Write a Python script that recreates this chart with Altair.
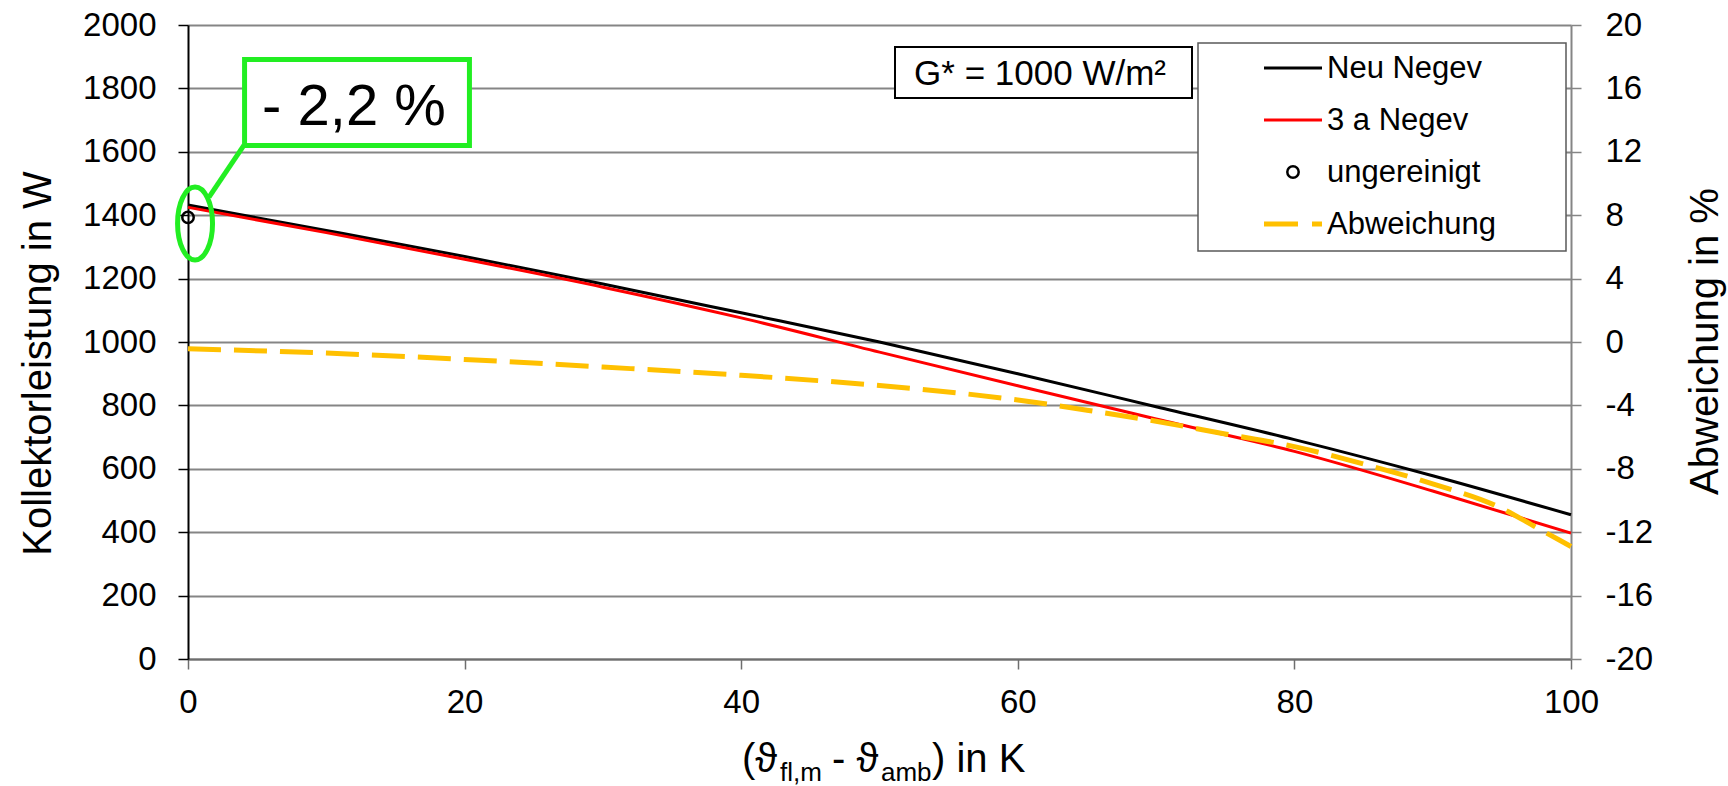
import altair as alt
import pandas as pd

# Collector output over the temperature difference (fluid mean - ambient)
temp_diff = [0, 10, 20, 30, 40, 50, 60, 70, 80, 90, 100]
power_new = [1432, 1352, 1270, 1183, 1092, 1000, 900, 796, 692, 578, 455]
power_3a = [1425, 1345, 1261, 1173, 1076, 968, 862, 757, 655, 530, 397]

# Deviation of the 3-year-old collector in percent (secondary axis)
dev_temp = [0, 10, 20, 30, 40, 50, 60, 65, 70, 75, 80, 85, 90, 95, 97.5, 100]
dev_pct = [-0.43, -0.7, -1.1, -1.58, -2.1, -2.75, -3.66, -4.3, -5.0, -5.8,
           -6.6, -7.7, -8.95, -10.5, -11.7, -12.9]

# Single measurement of the uncleaned collector
unclean_temp = [0]
unclean_power = [1393]

series_names = ["Neu Negev", "3 a Negev", "ungereinigt", "Abweichung"]
series_colors = ["#000000", "#ff0000", "#000000", "#ffc000"]

x_ticks = [0, 20, 40, 60, 80, 100]
power_ticks = [0, 200, 400, 600, 800, 1000, 1200, 1400, 1600, 1800, 2000]
dev_ticks = [-20, -16, -12, -8, -4, 0, 4, 8, 12, 16, 20]

callout_text = "- 2,2 %"
irradiance_text = "G* = 1000 W/m²"
y_title = "Kollektorleistung in W"
dev_title = "Abweichung in %"
x_title_parts = ["(ϑ", "fl,m", "- ϑ", "amb", ") in K"]

# ---------------------------------------------------------------- layout
W, H = 1383, 634
FONT = "Liberation Sans"
TITLE_SIZE = 40
GREEN = "#22ee22"
GRID = "#858585"

x_scale = alt.Scale(domain=[0, 100], nice=False, zero=False)
p_scale = alt.Scale(domain=[0, 2000], nice=False)
d_scale = alt.Scale(domain=[-20, 20], nice=False)

x_axis = alt.Axis(values=x_ticks, title=None, grid=False, format="d",
                  labelFont=FONT, labelFontSize=33, labelColor="#000",
                  labelPadding=17, labelFlush=False, tickSize=10,
                  tickColor="#6e6e6e", tickWidth=1.5,
                  domainColor="#6e6e6e", domainWidth=2)

p_axis = alt.Axis(orient="left", values=power_ticks, format="d",
                  title=y_title, titleFont=FONT, titleFontSize=TITLE_SIZE,
                  titleFontWeight="normal", titleColor="#000",
                  titleAngle=270, titleAlign="center",
                  titleBaseline="alphabetic", titleX=-138, titleY=338,
                  labelFont=FONT, labelFontSize=33, labelColor="#000",
                  labelPadding=22, tickSize=10, tickColor="#000",
                  tickWidth=1.5, domainColor="#000", domainWidth=2,
                  grid=True, gridColor=GRID, gridWidth=2)

d_axis = alt.Axis(orient="right", values=dev_ticks,
                  labelExpr="'' + datum.value",
                  title=dev_title, titleFont=FONT, titleFontSize=TITLE_SIZE,
                  titleFontWeight="normal", titleColor="#000",
                  titleAngle=270, titleAlign="center",
                  titleBaseline="alphabetic", titleX=146, titleY=316,
                  labelFont=FONT, labelFontSize=33, labelColor="#000",
                  labelPadding=24, tickSize=10, tickColor=GRID,
                  tickWidth=1.5, domainColor=GRID, domainWidth=2, grid=False)


def X(field):
    return alt.X(field, type="quantitative", scale=x_scale, axis=x_axis)


def P(field):
    return alt.Y(field, type="quantitative", scale=p_scale, axis=p_axis)


# ---------------------------------------------------------------- power curves
n = len(temp_diff)
power_df = pd.DataFrame({
    "dT": temp_diff + temp_diff,
    "P": power_new + power_3a,
    "series": [series_names[0]] * n + [series_names[1]] * n,
})

lines = alt.Chart(power_df).mark_line(interpolate="monotone", strokeWidth=3).encode(
    x=X("dT"),
    y=P("P"),
    color=alt.Color("series:N", legend=None,
                    scale=alt.Scale(domain=series_names[:2], range=series_colors[:2])),
    detail="series:N",
)

unclean = alt.Chart(pd.DataFrame({"dT": unclean_temp, "P": unclean_power})).mark_point(
    shape="circle", filled=False, color=series_colors[2], size=130,
    strokeWidth=2.5, opacity=1,
).encode(x=X("dT"), y=P("P"))

# ---------------------------------------------------------------- callout
callout = pd.DataFrame([{
    "bx0": 4.09, "bx1": 20.35, "by0": 1620, "by1": 1891,
    "tx": 12.0, "ty": 1683,
    "ex": 0.51, "ey": 1374,
    "lx0": 1.52, "ly0": 1457, "lx1": 4.05, "ly1": 1621,
}])
ELLIPSE = ("M 0 -1 C 0.265 -1 0.479 -0.552 0.479 0 C 0.479 0.552 0.265 1 0 1 "
           "C -0.265 1 -0.479 0.552 -0.479 0 C -0.479 -0.552 -0.265 -1 0 -1 Z")

call_base = alt.Chart(callout)
call_link = call_base.mark_rule(color=GREEN, strokeWidth=5).encode(
    x=X("lx0"), x2="lx1", y=P("ly0"), y2="ly1")
call_ring = call_base.mark_point(shape=ELLIPSE, size=5329, filled=False,
                                 color=GREEN, strokeWidth=5, opacity=1).encode(
    x=X("ex"), y=P("ey"))
call_box = call_base.mark_rect(fill="#ffffff", stroke=GREEN, strokeWidth=5).encode(
    x=X("bx0"), x2="bx1", y=P("by0"), y2="by1")
call_text = call_base.mark_text(text=callout_text, font=FONT, fontSize=58,
                                color="#000", align="center", baseline="alphabetic").encode(
    x=X("tx"), y=P("ty"))

# ---------------------------------------------------------------- static boxes
one = pd.DataFrame({"k": [0]})

g_box = alt.Chart(one).mark_rect(fill="#ffffff", stroke="#000", strokeWidth=2).encode(
    x=alt.value(707), x2=alt.value(1004), y=alt.value(22), y2=alt.value(73))
g_text = alt.Chart(one).mark_text(text=irradiance_text, font=FONT, fontSize=35,
                                  color="#000", align="center", baseline="middle").encode(
    x=alt.value(852), y=alt.value(49))

legend_layers = [
    alt.Chart(one).mark_rect(fill="#ffffff", stroke="#595959", strokeWidth=1.5).encode(
        x=alt.value(1010), x2=alt.value(1378), y=alt.value(18), y2=alt.value(226))
]
legend_rows = [43, 95, 147, 199]
for name, colr, cy in zip(series_names, series_colors, legend_rows):
    if name == "ungereinigt":
        sym = alt.Chart(one).mark_point(shape="circle", filled=False, color=colr,
                                        size=130, strokeWidth=2.5, opacity=1).encode(
            x=alt.value(1105), y=alt.value(cy))
    elif name == "Abweichung":
        sym = alt.Chart(one).mark_rule(color=colr, strokeWidth=5, strokeDash=[34, 14]).encode(
            x=alt.value(1076), x2=alt.value(1134), y=alt.value(cy))
    else:
        sym = alt.Chart(one).mark_rule(color=colr, strokeWidth=3).encode(
            x=alt.value(1076), x2=alt.value(1134), y=alt.value(cy))
    txt = alt.Chart(one).mark_text(text=name, font=FONT, fontSize=31, color="#000",
                                   align="left", baseline="middle").encode(
        x=alt.value(1139), y=alt.value(cy + 1))
    legend_layers += [sym, txt]

# x-axis title with subscripts, assembled from pieces
x_title_x = [554, 592, 644, 693, 744]
x_title_layers = []
for i, (part, px) in enumerate(zip(x_title_parts, x_title_x)):
    sub = i % 2 == 1
    x_title_layers.append(
        alt.Chart(one).mark_text(text=part, font=FONT, fontSize=26 if sub else TITLE_SIZE,
                                 color="#000", align="left", baseline="alphabetic").encode(
            x=alt.value(px), y=alt.value(756 if sub else 747)))

left = alt.layer(lines, unclean, call_link, call_ring, call_box, call_text,
                 g_box, g_text, *legend_layers, *x_title_layers)

# ---------------------------------------------------------------- deviation (right axis)
deviation = alt.Chart(pd.DataFrame({"dT": dev_temp, "D": dev_pct})).mark_line(
    color=series_colors[3], strokeWidth=5, strokeDash=[33, 13], interpolate="monotone",
).encode(
    x=X("dT"),
    y=alt.Y("D:Q", scale=d_scale, axis=d_axis),
)

chart = alt.layer(left, deviation).resolve_scale(y="independent").properties(
    width=W, height=H,
    autosize=alt.AutoSizeParams(type="none"),
    padding={"left": 188, "top": 25, "right": 1728 - 188 - W, "bottom": 786 - 25 - H},
).configure_view(stroke=None).configure(background="#ffffff")

chart.save("out.html", embed_options={"renderer": "svg", "actions": False})
